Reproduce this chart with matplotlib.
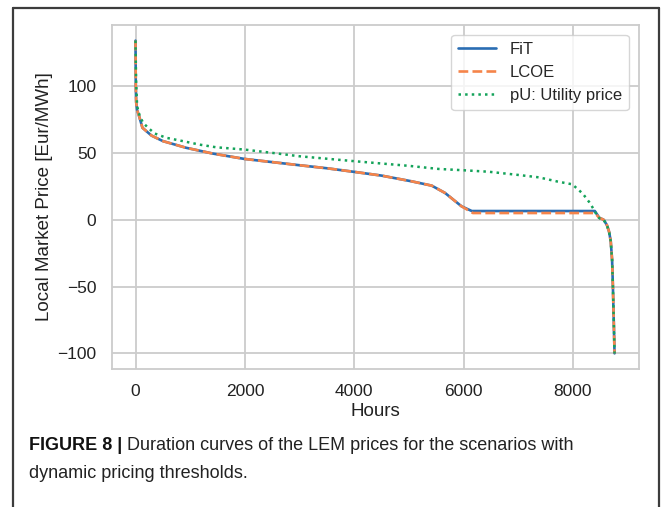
import matplotlib
matplotlib.use("Agg")
import matplotlib.pyplot as plt
import seaborn as sns
from matplotlib.lines import Line2D

# duration curves, hours sorted by price
hours_fit = [0, 5, 12, 30, 66, 127, 291, 502, 928, 1413, 1989, 2629, 2991, 3500,
             4000, 4500, 5053, 5417, 5661, 5963, 6150, 8400, 8480, 8560, 8620,
             8660, 8690, 8715, 8730, 8745, 8760]
price_fit = [134, 100, 88, 82, 77.5, 68.8, 63, 58.8, 53.8, 49.5, 45.5, 42.5, 40.8, 38.5,
             35.8, 33, 28.7, 25.5, 20, 10, 6.5, 6.5, 1.5, 0, -4,
             -9, -16, -30, -50, -75, -100]

hours_lcoe = [0, 5, 12, 30, 66, 127, 291, 502, 928, 1413, 1989, 2629, 2991, 3500,
              4000, 4500, 5053, 5417, 5661, 5963, 6170, 8400, 8480, 8560, 8620,
              8660, 8690, 8715, 8730, 8745, 8760]
price_lcoe = [134, 100, 88, 82, 77.5, 68.8, 63, 58.8, 53.8, 49.5, 45.5, 42.5, 40.8, 38.5,
              35.8, 33, 28.7, 25.5, 20, 10, 5, 5, 1.5, 0, -4,
              -9, -16, -30, -50, -75, -100]

hours_pu = [0, 10, 29, 78, 139, 230, 351, 564, 867, 1170, 1474, 1989, 2505, 2991,
            4000, 5000, 5539, 6000, 6458, 7000, 7375, 7723, 7987, 8179, 8300,
            8391, 8451, 8500, 8560, 8620, 8660, 8690, 8715, 8730, 8745, 8760]
price_pu = [134, 105, 85, 77.5, 72.5, 68.8, 64.5, 61.3, 58.8, 56.2, 54.2, 52.5, 50, 47.5,
            43.8, 40.3, 38, 37, 35.9, 33.5, 31.7, 28.5, 26.5, 19.5, 13,
            7, 2, 0.8, 0, -4, -9, -16, -30, -50, -75, -100]

x_ticks = [0, 2000, 4000, 6000, 8000]
y_ticks = [-100, -50, 0, 50, 100]

sns.set_theme(style="whitegrid")
plt.rcParams["font.family"] = ["Liberation Sans", "DejaVu Sans"]
plt.rcParams["grid.linewidth"] = 1.3
plt.rcParams["axes.linewidth"] = 1.3

fig = plt.figure(figsize=(6.64, 5.07), dpi=100)
ax = fig.add_axes([0.168, 0.2722, 0.7936, 0.6785])

ax.plot(hours_fit, price_fit, color="#2a6db3", lw=1.9, label="FiT")
ax.plot(hours_lcoe, price_lcoe, color="#f5844a", lw=1.9, ls="--", label="LCOE")
ax.plot(hours_pu, price_pu, color="#14a35a", lw=1.8, ls=":", label="pU: Utility price")

ax.set_xticks(x_ticks)
ax.set_yticks(y_ticks)
ax.set_yticklabels(["\u2212100", "\u221250", "0", "50", "100"])
ax.tick_params(labelsize=12.5, colors="#222222", pad=5)
ax.set_xlabel("Hours", fontsize=13.5, color="#222222", labelpad=3)
ax.set_ylabel("Local Market Price [Eur/MWh]", fontsize=13.5, color="#222222",
              labelpad=3)
ax.legend(loc="upper right", fontsize=12, handlelength=2.3, borderaxespad=0.6,
          labelspacing=0.5)

# outer frame, open at the bottom
frame_kw = dict(color="#3c3c3c", lw=1.6, transform=fig.transFigure)
x0, x1, ytop = 12.5 / 664, 659 / 664, 1 - 7.5 / 507
fig.add_artist(Line2D([x0, x0], [0, ytop], **frame_kw))
fig.add_artist(Line2D([x0, x1], [ytop, ytop], **frame_kw))
fig.add_artist(Line2D([x1, x1], [0, ytop], **frame_kw))

# caption with bold lead-in
cap_x, cap_y1, cap_y2 = 29 / 664, 1 - 445 / 507, 1 - 473 / 507
lead = fig.text(cap_x, cap_y1, "FIGURE 8 |", fontsize=13, fontweight="bold",
                va="center", color="#111111")
fig.canvas.draw()
bb = lead.get_window_extent(fig.canvas.get_renderer())
fig.text(bb.x1 / fig.bbox.width + 0.007, cap_y1,
         "Duration curves of the LEM prices for the scenarios with",
         fontsize=13, va="center", color="#222222")
fig.text(cap_x, cap_y2, "dynamic pricing thresholds.", fontsize=13,
         va="center", color="#222222")

fig.savefig("out.png", dpi=100)
